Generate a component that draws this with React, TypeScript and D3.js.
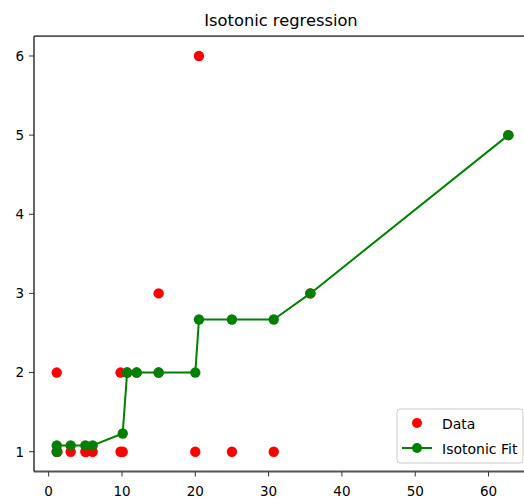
import React from "react";
import * as d3 from "d3";

// observed data (red)
const dataX = [1.1, 1.1, 1.2, 3, 5, 5.1, 6, 9.8, 9.8, 10.1, 10.7, 12, 15, 15, 20, 20.5, 25, 30.7, 35.7, 62.7];
const dataY = [2, 1, 1, 1, 1, 1, 1, 2, 1, 1, 2, 2, 3, 2, 1, 6, 1, 1, 3, 5];

// isotonic fit (green)
const fitX = [1.1, 1.1, 3, 5, 6, 10.1, 10.7, 12, 15, 20, 20.5, 25, 30.7, 35.7, 62.7];
const fitY = [1.0, 1.08, 1.08, 1.08, 1.08, 1.23, 2, 2, 2, 2, 2.67, 2.67, 2.67, 3, 5];

const xTickValues = [0, 10, 20, 30, 40, 50, 60];
const yTickValues = [1, 2, 3, 4, 5, 6];
const legendLabels = ["Data", "Isotonic Fit"];

const width = 524, height = 499;
const font = "DejaVu Sans, sans-serif";

const App = () => {
  const x = d3.scaleLinear().domain([-2.0, 66.2]).range([34, 534]);
  const y = d3.scaleLinear().domain([0.75, 6.25]).range([471.5, 36.2]);

  const dataPts = dataX.map((d, i) => ({ x: d, y: dataY[i] }));
  const fitPts = fitX.map((d, i) => ({ x: d, y: fitY[i] }));

  const line = d3.line<{ x: number; y: number }>()
    .x(d => x(d.x))
    .y(d => y(d.y));

  const [x0, x1] = x.range();
  const [y0, y1] = y.range();

  return (
    <svg width={width} height={height} style={{ position: "absolute", left: 0, top: 0, fontFamily: font }}>
      <rect x={0} y={0} width={width} height={height} fill="white" />
      <text x={281} y={26} textAnchor="middle" fontSize={16.3} fill="#000">Isotonic regression</text>

      {dataPts.map((d, i) => (
        <circle key={"d" + i} cx={x(d.x)} cy={y(d.y)} r={5.2} fill="#ff0000" />
      ))}

      <path d={line(fitPts) || ""} fill="none" stroke="#008000" strokeWidth={2} strokeLinejoin="round" />
      {fitPts.map((d, i) => (
        <circle key={"f" + i} cx={x(d.x)} cy={y(d.y)} r={5.2} fill="#008000" />
      ))}

      {/* spines */}
      <line x1={x0} x2={x1} y1={y1} y2={y1} stroke="#555" strokeWidth={1.8} />
      <line x1={x0} x2={x1} y1={y0} y2={y0} stroke="#555" strokeWidth={1.8} />
      <line x1={x0} x2={x0} y1={y1} y2={y0} stroke="#000" strokeWidth={1.2} />

      {xTickValues.map(t => (
        <g key={"xt" + t} transform={`translate(${x(t)},${y0})`}>
          <line y1={0} y2={5} stroke="#333" strokeWidth={1} />
          <text y={24.5} textAnchor="middle" fontSize={13.5} fill="#000">{t}</text>
        </g>
      ))}
      {yTickValues.map(t => (
        <g key={"yt" + t} transform={`translate(${x0},${y(t)})`}>
          <line x1={0} x2={-5} stroke="#333" strokeWidth={1} />
          <text x={-10} dy="0.36em" textAnchor="end" fontSize={13.5} fill="#000">{t}</text>
        </g>
      ))}

      {/* legend */}
      <g>
        <rect x={397} y={409} width={126} height={54} rx={3} fill="white" fillOpacity={0.8} stroke="#cccccc" />
        <circle cx={417} cy={423} r={5} fill="#ff0000" />
        <line x1={402} x2={432} y1={448} y2={448} stroke="#008000" strokeWidth={2} />
        <circle cx={417} cy={448} r={5} fill="#008000" />
        <text x={442} y={429} fontSize={14} fill="#000">{legendLabels[0]}</text>
        <text x={442} y={454} fontSize={14} fill="#000">{legendLabels[1]}</text>
      </g>
    </svg>
  );
};

export default App;
